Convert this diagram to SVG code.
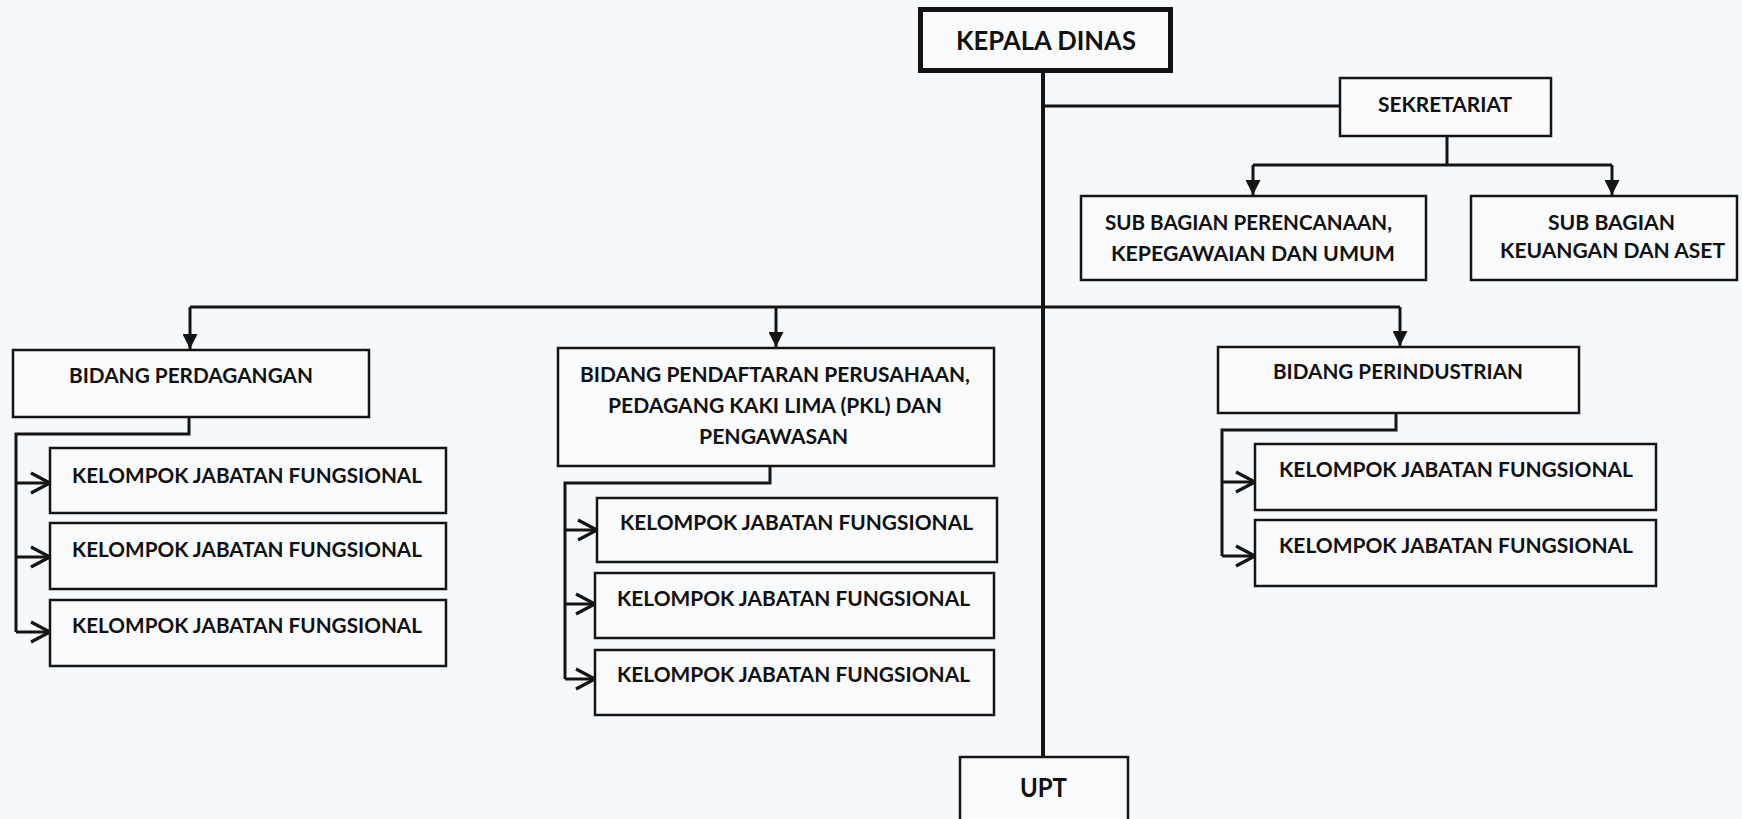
<svg xmlns="http://www.w3.org/2000/svg" width="1742" height="819" viewBox="0 0 1742 819">
<style>
.bg{fill:#f6f9fc}
.box{fill:#f8fafc;stroke:#141414;stroke-width:2.5}
.thick{stroke-width:5}
.t{font-family:Lato,"Open Sans","Liberation Sans",sans-serif;font-weight:700;fill:#111;text-anchor:middle}
.s20{font-size:20px}
.s21{font-size:21px}
.s26{font-size:26px}
.c{fill:none;stroke:#141414;stroke-width:3}
.main{stroke-width:4}
</style>
<defs>
<marker id="tri" viewBox="0 0 10 10" refX="10" refY="5" markerWidth="15" markerHeight="15" markerUnits="userSpaceOnUse" orient="auto">
<path d="M0,0 L10,5 L0,10 z" fill="#141414"/>
</marker>
<marker id="chev" viewBox="0 0 24 24" refX="22" refY="12" markerWidth="24" markerHeight="24" markerUnits="userSpaceOnUse" orient="auto">
<path d="M3,2 L22,12 L3,22" fill="none" stroke="#141414" stroke-width="3.2"/>
</marker>
</defs>
<rect class="bg" x="0" y="0" width="1742" height="819"/>

<g id="connectors">
<path class="c main" d="M1043,73 V757"/>
<path class="c" d="M1043,106 H1340"/>
<path class="c" d="M1447,136 V165"/>
<path class="c" d="M1253,165 H1612"/>
<path class="c" d="M1253,165 V195" marker-end="url(#tri)"/>
<path class="c" d="M1612,165 V195" marker-end="url(#tri)"/>
<path class="c" d="M190,307 H1400"/>
<path class="c" d="M190,307 V349" marker-end="url(#tri)"/>
<path class="c" d="M776,307 V347" marker-end="url(#tri)"/>
<path class="c" d="M1400,307 V346" marker-end="url(#tri)"/>
<path class="c" d="M189,417 V434 H16 V632"/>
<path class="c" d="M16,483 H50" marker-end="url(#chev)"/>
<path class="c" d="M16,557 H50" marker-end="url(#chev)"/>
<path class="c" d="M16,632 H50" marker-end="url(#chev)"/>
<path class="c" d="M770,466 V483 H565 V679"/>
<path class="c" d="M565,530 H597" marker-end="url(#chev)"/>
<path class="c" d="M565,604 H595" marker-end="url(#chev)"/>
<path class="c" d="M565,679 H595" marker-end="url(#chev)"/>
<path class="c" d="M1396,413 V430 H1222 V556"/>
<path class="c" d="M1222,482 H1255" marker-end="url(#chev)"/>
<path class="c" d="M1222,556 H1255" marker-end="url(#chev)"/>
</g>

<g id="kepala-dinas">
<rect class="box thick" x="920.5" y="9.5" width="250" height="61"/>
<text class="t s26" x="1046" y="50" textLength="180" lengthAdjust="spacingAndGlyphs">KEPALA DINAS</text>
</g>

<g id="sekretariat">
<rect class="box" x="1340" y="78" width="211" height="58"/>
<text class="t s21" x="1445" y="112" textLength="134" lengthAdjust="spacingAndGlyphs">SEKRETARIAT</text>
</g>

<g id="subbag-perencanaan">
<rect class="box" x="1081" y="196" width="345" height="84"/>
<text class="t s20" x="1248.5" y="230" textLength="287" lengthAdjust="spacingAndGlyphs">SUB BAGIAN PERENCANAAN,</text>
<text class="t s20" x="1253" y="261" textLength="284" lengthAdjust="spacingAndGlyphs">KEPEGAWAIAN DAN UMUM</text>
</g>

<g id="subbag-keuangan">
<rect class="box" x="1471" y="196" width="266" height="84"/>
<text class="t s20" x="1611.5" y="230" textLength="127" lengthAdjust="spacingAndGlyphs">SUB BAGIAN</text>
<text class="t s20" x="1612.5" y="258" textLength="225" lengthAdjust="spacingAndGlyphs">KEUANGAN DAN ASET</text>
</g>

<g id="bidang-perdagangan">
<rect class="box" x="13" y="350" width="356" height="67"/>
<text class="t s20" x="191" y="383" textLength="244" lengthAdjust="spacingAndGlyphs">BIDANG PERDAGANGAN</text>
</g>

<g id="bidang-pendaftaran">
<rect class="box" x="558" y="348" width="436" height="118"/>
<text class="t s20" x="775" y="382" textLength="390" lengthAdjust="spacingAndGlyphs">BIDANG PENDAFTARAN PERUSAHAAN,</text>
<text class="t s20" x="775" y="413" textLength="334" lengthAdjust="spacingAndGlyphs">PEDAGANG KAKI LIMA (PKL) DAN</text>
<text class="t s20" x="773.5" y="444" textLength="149" lengthAdjust="spacingAndGlyphs">PENGAWASAN</text>
</g>

<g id="bidang-perindustrian">
<rect class="box" x="1218" y="347" width="361" height="66"/>
<text class="t s20" x="1398" y="379" textLength="250" lengthAdjust="spacingAndGlyphs">BIDANG PERINDUSTRIAN</text>
</g>

<g id="kjf-perdagangan-1">
<rect class="box" x="50" y="448" width="396" height="65"/>
<text class="t s20" x="247" y="483" textLength="350" lengthAdjust="spacingAndGlyphs">KELOMPOK JABATAN FUNGSIONAL</text>
</g>
<g id="kjf-perdagangan-2">
<rect class="box" x="50" y="523" width="396" height="66"/>
<text class="t s20" x="247" y="557" textLength="350" lengthAdjust="spacingAndGlyphs">KELOMPOK JABATAN FUNGSIONAL</text>
</g>
<g id="kjf-perdagangan-3">
<rect class="box" x="50" y="600" width="396" height="66"/>
<text class="t s20" x="247" y="633" textLength="350" lengthAdjust="spacingAndGlyphs">KELOMPOK JABATAN FUNGSIONAL</text>
</g>

<g id="kjf-pendaftaran-1">
<rect class="box" x="597" y="498" width="400" height="64"/>
<text class="t s20" x="796.5" y="530" textLength="353" lengthAdjust="spacingAndGlyphs">KELOMPOK JABATAN FUNGSIONAL</text>
</g>
<g id="kjf-pendaftaran-2">
<rect class="box" x="595" y="573" width="399" height="65"/>
<text class="t s20" x="793.5" y="606" textLength="353" lengthAdjust="spacingAndGlyphs">KELOMPOK JABATAN FUNGSIONAL</text>
</g>
<g id="kjf-pendaftaran-3">
<rect class="box" x="595" y="650" width="399" height="65"/>
<text class="t s20" x="793.5" y="682" textLength="353" lengthAdjust="spacingAndGlyphs">KELOMPOK JABATAN FUNGSIONAL</text>
</g>

<g id="kjf-perindustrian-1">
<rect class="box" x="1255" y="444" width="401" height="66"/>
<text class="t s20" x="1456" y="477" textLength="354" lengthAdjust="spacingAndGlyphs">KELOMPOK JABATAN FUNGSIONAL</text>
</g>
<g id="kjf-perindustrian-2">
<rect class="box" x="1255" y="520" width="401" height="66"/>
<text class="t s20" x="1456" y="553" textLength="354" lengthAdjust="spacingAndGlyphs">KELOMPOK JABATAN FUNGSIONAL</text>
</g>

<g id="upt">
<rect class="box" x="960" y="757" width="168" height="70"/>
<text class="t s26" x="1043.5" y="797" textLength="47" lengthAdjust="spacingAndGlyphs">UPT</text>
</g>
</svg>
